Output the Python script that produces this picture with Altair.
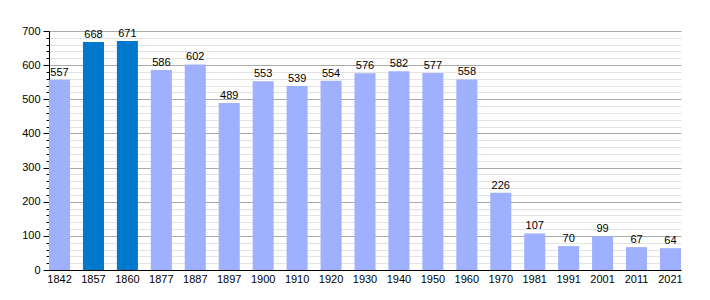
import altair as alt
import pandas as pd

years = ["1842", "1857", "1860", "1877", "1887", "1897", "1900", "1910", "1920", "1930",
         "1940", "1950", "1960", "1970", "1981", "1991", "2001", "2011", "2021"]
population = [557, 668, 671, 586, 602, 489, 553, 539, 554, 576,
              582, 577, 558, 226, 107, 70, 99, 67, 64]
highlight = ["1857", "1860"]

df = pd.DataFrame({"year": years, "pop": population})
df["hl"] = df["year"].isin(highlight).map({True: "dark", False: "light"})

FONT = "Liberation Sans"
W, H = 632, 239

yscale = alt.Scale(domain=[0, 700], nice=False)
is_major = "datum.value % 100 === 0"

yaxis = alt.Axis(
    values=list(range(0, 701, 20)),
    labelExpr=f"{is_major} ? datum.label : ''",
    tickSize={"condition": {"test": is_major, "value": 6}, "value": 3},
    tickColor="black", domainColor="black", grid=True,
    gridColor={"condition": {"test": is_major, "value": "#aaaaaa"}, "value": "#e3e3e3"},
    gridWidth=1,
    labelFont=FONT, labelFontSize=11, labelColor="black", labelPadding=3,
)

xaxis = alt.Axis(labelAngle=0, ticks=False, domainColor="black",
                 labelFont=FONT, labelFontSize=11, labelColor="black",
                 labelPadding=3, grid=False)

base = alt.Chart(df).encode(
    x=alt.X("year:N", sort=years, title=None,
            scale=alt.Scale(paddingInner=0.38, paddingOuter=0), axis=xaxis),
    y=alt.Y("pop:Q", scale=yscale, title=None, axis=yaxis),
)

bars = base.mark_bar().encode(
    color=alt.Color("hl:N", scale=alt.Scale(domain=["light", "dark"],
                                            range=["#9fb0ff", "#0079cc"]), legend=None),
)

text = base.mark_text(dy=-7, font=FONT, fontSize=11, color="black").encode(
    text="pop:Q",
)

chart = alt.layer(bars, text).properties(
    width=W, height=H,
    autosize=alt.AutoSizeParams(type="none"),
    padding={"left": 49, "top": 31, "right": 29, "bottom": 30},
).configure_view(stroke=None)

chart.save("out.html", embed_options={"renderer": "svg", "actions": False})
